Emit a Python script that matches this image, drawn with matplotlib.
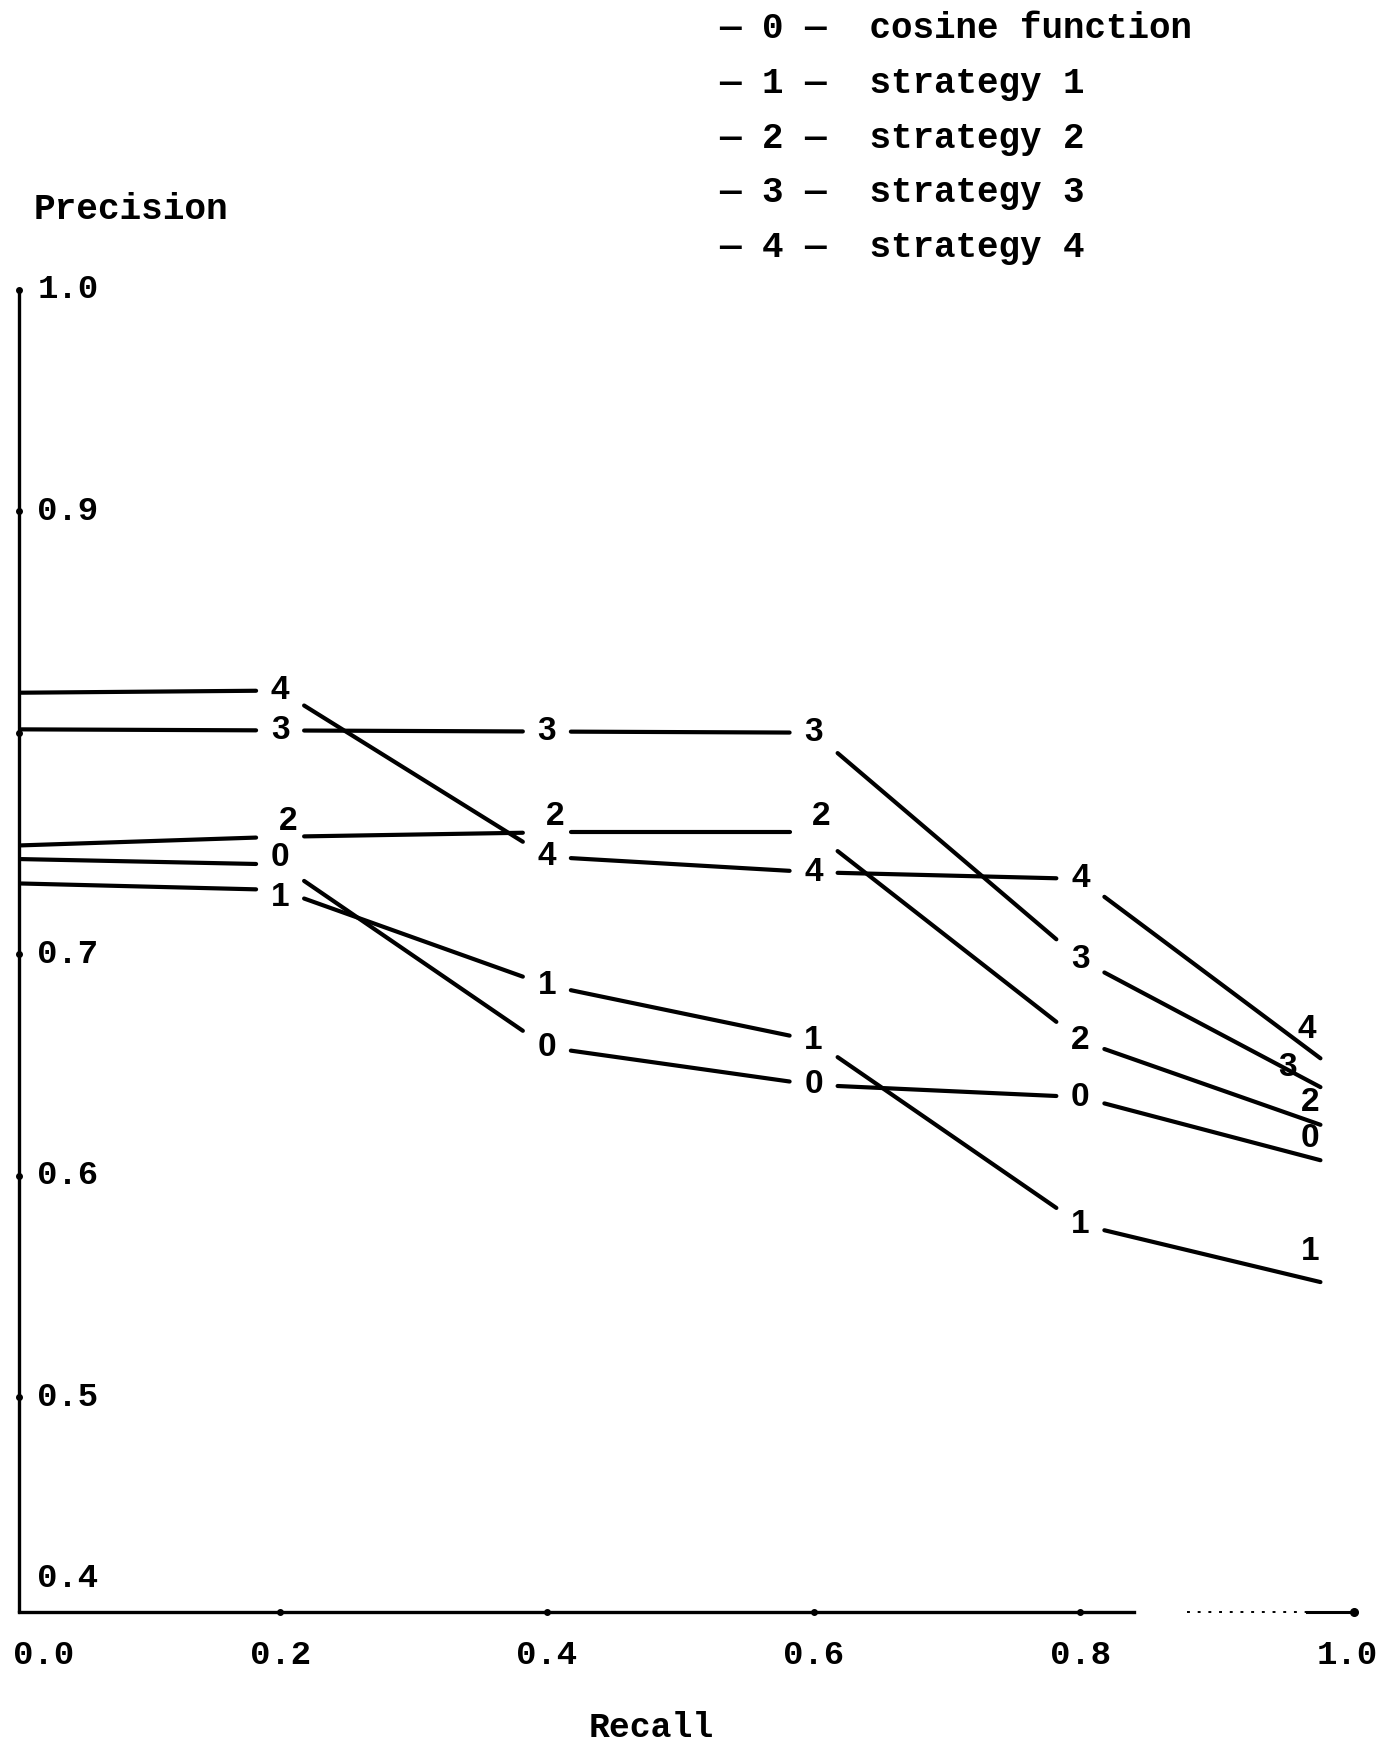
import matplotlib.pyplot as plt
import numpy as np

# Data
recall = [0.0, 0.2, 0.4, 0.6, 0.8, 0.98]
series_ids = ["0", "1", "2", "3", "4"]
series_names = ["cosine function", "strategy 1", "strategy 2", "strategy 3", "strategy 4"]
precision = [
    [0.743, 0.7405, 0.658, 0.641, 0.6355, 0.607],  # 0 cosine function
    [0.732, 0.729, 0.686, 0.661, 0.578, 0.552],    # 1 strategy 1
    [0.749, 0.753, 0.755, 0.755, 0.661, 0.623],    # 2 strategy 2
    [0.8015, 0.801, 0.8005, 0.800, 0.6975, 0.640], # 3 strategy 3
    [0.818, 0.819, 0.744, 0.737, 0.734, 0.653],    # 4 strategy 4
]
x_ticks = [0.0, 0.2, 0.4, 0.6, 0.8, 1.0]
x_tick_labels = ["0.0", "0.2", "0.4", "0.6", "0.8", "1.0"]
y_ticks = [1.0, 0.9, 0.7, 0.6, 0.5, 0.4]
y_tick_labels = ["1.0", "0.9", "0.7", "0.6", "0.5", "0.4"]

mono = "Liberation Mono"
digits = "Liberation Sans"

fig = plt.figure(figsize=(13.85, 17.46), dpi=100)
ax = fig.add_axes([0, 0, 1, 1])
ax.set_xlim(-0.01, 1.0284)
ax.set_ylim(0.3426, 1.1307)
ax.axis("off")

y_bottom = 0.403
x_axis = 0.004

# axes, drawn like the pen plotter did
ax.plot([x_axis, x_axis], [y_bottom, 1.0], color="black", lw=2.4, solid_capstyle="round")
ax.plot([x_axis, 0.84], [y_bottom, y_bottom], color="black", lw=2.4)
ax.plot([0.88, 0.97], [y_bottom, y_bottom], color="black", lw=1.4, ls=(0, (1.5, 4)))
ax.plot([0.97, 1.005], [y_bottom, y_bottom], color="black", lw=2.2)
ax.plot([1.005], [y_bottom], "o", color="black", ms=5.5)
ax.plot([x_axis], [1.0], "o", color="black", ms=4)
for v in [0.9, 0.8, 0.7, 0.6, 0.5]:
    ax.plot([x_axis], [v], "o", color="black", ms=4)
for v in [0.2, 0.4, 0.6, 0.8]:
    ax.plot([v], [y_bottom], "o", color="black", ms=4)

# tick labels
for v, lab in zip(y_ticks, y_tick_labels):
    yy = max(v, y_bottom + 0.015)
    ax.text(0.018, yy, lab, family=mono, fontweight="bold", fontsize=24.5,
            ha="left", va="center")
for v, lab in zip(x_ticks, x_tick_labels):
    ax.text(max(v, -0.002), 0.3834, lab, family=mono, fontweight="bold", fontsize=24.5,
            ha="left" if v == 0 else "center", va="center")

ax.text(0.478, 0.3508, "Recall", family=mono, fontweight="bold", fontsize=25,
        ha="center", va="center")
ax.text(0.015, 1.036, "Precision", family=mono, fontweight="bold", fontsize=26,
        ha="left", va="center")

# legend block
for i, (sid, name) in enumerate(zip(series_ids, series_names)):
    ax.text(0.529, 1.118 - i * 0.0248, f"\u2014 {sid} \u2014  {name}", family=mono,
            fontweight="bold", fontsize=25.8, ha="left", va="center")

# curves: segments broken around the digit labels
gap = 0.018
# small label shifts (series, point index) -> (dx, dy), as placed in the original
label_nudge = {("2", 1): (0.006, 0.007), ("2", 2): (0.006, 0.007), ("2", 3): (0.006, 0.007),
               ("0", 1): (0.0, 0.003), ("1", 1): (0.0, -0.0035)}
end_nudge = {"0": (-0.008, 0.010), "1": (-0.008, 0.014), "2": (-0.008, 0.010),
             "3": (-0.025, 0.009), "4": (-0.010, 0.013)}
n = len(recall)
for sid, ys in zip(series_ids, precision):
    for i in range(n - 1):
        x0, x1 = recall[i], recall[i + 1]
        y0, y1 = ys[i], ys[i + 1]
        s = x0 + (gap if i > 0 else x_axis + 0.002)
        e = x1 - gap if i + 1 < n - 1 else x1
        ts = (s - x0) / (x1 - x0)
        te = (e - x0) / (x1 - x0)
        ax.plot([s, e], [y0 + ts * (y1 - y0), y0 + te * (y1 - y0)],
                color="black", lw=3.0, solid_capstyle="round")
    for i in range(1, n - 1):
        dx, dy = label_nudge.get((sid, i), (0, 0))
        ax.text(recall[i] + dx, ys[i] + dy, sid, family=digits, fontweight="bold",
                fontsize=24, ha="center", va="center")
    dx, dy = end_nudge[sid]
    ax.text(recall[-1] + dx, ys[-1] + dy, sid, family=digits, fontweight="bold",
            fontsize=24, ha="center", va="center")

fig.savefig("out.png", dpi=100)
